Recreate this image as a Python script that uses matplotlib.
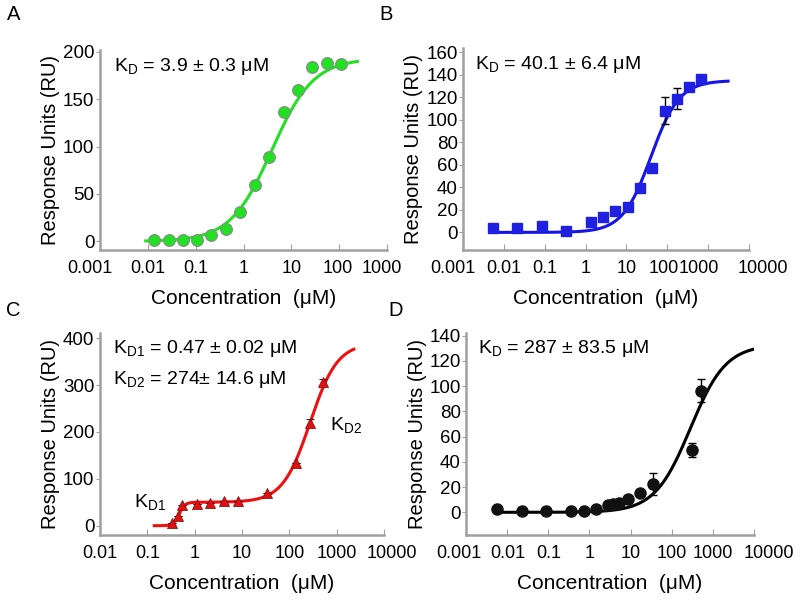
import numpy as np
import matplotlib
matplotlib.use('Agg')
import matplotlib.pyplot as plt
from matplotlib.transforms import ScaledTranslation

plt.rcParams['font.family'] = ['Liberation Sans', 'DejaVu Sans']
plt.rcParams['mathtext.fontset'] = 'custom'
plt.rcParams['mathtext.rm'] = 'Liberation Sans'
plt.rcParams['mathtext.it'] = 'Liberation Sans'

# panel A (green circles)
a_conc = [0.0134, 0.027, 0.054, 0.107, 0.21, 0.43, 0.86, 1.7, 3.4, 6.9, 13.7, 27.5, 55, 110]
a_resp = [1, 1, 1, 1.8, 7, 12.7, 31, 59, 89, 137, 160, 184, 188, 187]
a_err = [0, 0, 0, 0, 0, 0, 1.5, 2.5, 1.5, 0, 0, 3.5, 0, 0]
a_kd, a_rmax = 3.9, 193

# panel B (blue squares)
b_conc = [0.0054, 0.021, 0.086, 0.34, 1.34, 2.7, 5.4, 10.7, 21.5, 43, 86, 172, 343, 687]
b_resp = [3.6, 3.6, 5.6, 1.5, 8.9, 13.9, 19.3, 22.5, 39.7, 56.9, 107.9, 119, 129.5, 136.6]
b_err = [0, 0, 0, 0, 0, 0, 0, 0, 0, 0, 12, 9, 0, 0]
b_kd, b_rmax, b_n = 40.1, 135, 1.25

# panel C (red triangles)
c_conc = [0.33, 0.44, 0.53, 1.1, 2.1, 4.2, 8.3, 33, 138, 275, 525]
c_resp = [5, 20.6, 44, 46, 47.7, 52, 53, 70, 134.5, 220, 307]
c_err = [0, 0, 0, 0, 0, 0, 0, 0, 0, 8, 6]
c_kd1, c_r1, c_n1 = 0.47, 50, 7
c_kd2, c_r2, c_n2 = 274, 340, 1.5

# panel D (black circles)
d_conc = [0.0056, 0.023, 0.089, 0.36, 0.72, 1.47, 2.8, 3.7, 5.1, 8.6, 17.3, 35, 320, 530]
d_resp = [2.6, 1.3, 1.3, 1.1, 1.3, 2.4, 5.8, 6.3, 7.1, 10.6, 15.6, 22.2, 49.4, 96.4]
d_err = [0, 0, 0, 0, 0, 0, 0, 0, 0, 0, 0, 8.7, 5.5, 9]
d_kd, d_rmax = 287, 133


def hill(x, kd, rmax, n=1.0):
    return rmax * x**n / (kd**n + x**n)


spine_col = '#a0a0a0'


def style(ax, xlim, ylim, yticks, xticks, shifts=None):
    ax.set_xscale('log')
    ax.set_xlim(*xlim)
    ax.set_ylim(*ylim)
    ax.set_yticks(yticks)
    ax.set_xticks(xticks)
    ax.set_xticklabels(['%g' % t for t in xticks])
    ax.minorticks_off()
    for s in ['top', 'right']:
        ax.spines[s].set_visible(False)
    for s in ['left', 'bottom']:
        ax.spines[s].set_color(spine_col)
        ax.spines[s].set_linewidth(1.8)
    ax.tick_params(axis='x', direction='in', length=4, color=spine_col, labelsize=13, pad=7)
    ax.tick_params(axis='y', direction='out', length=3, color=spine_col, labelsize=13.5, pad=1)
    ax.set_xlabel('Concentration  (μM)', fontsize=15, labelpad=9)
    ax.set_ylabel('Response Units (RU)', fontsize=14.5, labelpad=2)
    # end labels are nudged apart like in the original figure
    if shifts:
        for lbl, t in zip(ax.get_xticklabels(), xticks):
            if t in shifts:
                lbl.set_transform(lbl.get_transform() +
                                  ScaledTranslation(shifts[t] / 100, 0, fig.dpi_scale_trans))


fig = plt.figure(figsize=(8, 6.04), dpi=100)
axA = fig.add_axes([0.125, 0.586, 0.359, 0.332])
axB = fig.add_axes([0.579, 0.586, 0.357, 0.334])
axC = fig.add_axes([0.125, 0.1142, 0.355, 0.334])
axD = fig.add_axes([0.583, 0.1142, 0.359, 0.334])

# A
x = np.logspace(np.log10(0.009), np.log10(240), 300)
axA.plot(x, hill(x, a_kd, a_rmax), color='#22e022', lw=2.2, zorder=2)
axA.errorbar(a_conc, a_resp, yerr=a_err, fmt='o', ms=8.5, mfc='#22e022', mec='#8a8a8a',
             mew=0.8, ecolor='black', elinewidth=1, capsize=3, zorder=3)
style(axA, (0.001, 1000), (-9.2, 202.5), range(0, 201, 50),
      [0.001, 0.01, 0.1, 1, 10, 100, 1000], {0.001: -10, 100: -2, 1000: -5})
axA.text(0.05, 0.97, r'K$_{\mathrm{D}}$ = 3.9 ± 0.3 μM', transform=axA.transAxes,
         fontsize=14, va='top')

# B
x = np.logspace(np.log10(0.0054), np.log10(3100), 300)
axB.plot(x, hill(x, b_kd, b_rmax, b_n), color='#1414e6', lw=2.2, zorder=2)
axB.errorbar(b_conc, b_resp, yerr=b_err, fmt='s', ms=7, mfc='#2020e0', mec='#2020e0',
             ecolor='black', elinewidth=1, capsize=3, zorder=3)
style(axB, (0.001, 10000), (-15.7, 163.6), range(0, 161, 20),
      [0.001, 0.01, 0.1, 1, 10, 100, 1000, 10000],
      {0.001: -10, 100: -3, 1000: -9, 10000: 14})
axB.text(0.04, 0.97, r'K$_{\mathrm{D}}$ = 40.1 ± 6.4 μM', transform=axB.transAxes,
         fontsize=14, va='top')

# C
x = np.logspace(np.log10(0.14), np.log10(2300), 400)
axC.plot(x, hill(x, c_kd1, c_r1, c_n1) + hill(x, c_kd2, c_r2, c_n2),
         color='#ee1010', lw=2.2, zorder=2)
axC.errorbar(c_conc, c_resp, yerr=c_err, fmt='^', ms=6.5, mfc='#e01010', mec='#901010',
             mew=0.6, ecolor='black', elinewidth=1, capsize=3, zorder=3)
style(axC, (0.01, 10000), (-19.9, 410.6), range(0, 401, 100),
      [0.01, 0.1, 1, 10, 100, 1000, 10000], {10000: 8})
axC.text(0.045, 0.975, r'K$_{\mathrm{D1}}$ = 0.47 ± 0.02 μM', transform=axC.transAxes,
         fontsize=14, va='top')
axC.text(0.045, 0.825, r'K$_{\mathrm{D2}}$ = 274± 14.6 μM', transform=axC.transAxes,
         fontsize=14, va='top')
axC.text(0.12, 0.14, r'K$_{\mathrm{D1}}$', transform=axC.transAxes, fontsize=14)
axC.text(0.81, 0.52, r'K$_{\mathrm{D2}}$', transform=axC.transAxes, fontsize=14)

# D
x = np.logspace(np.log10(0.0056), np.log10(10000), 300)
axD.plot(x, hill(x, d_kd, d_rmax), color='black', lw=2.2, zorder=2)
axD.errorbar(d_conc, d_resp, yerr=d_err, fmt='o', ms=8, mfc='#111111', mec='#111111',
             ecolor='black', elinewidth=1, capsize=3, zorder=3)
style(axD, (0.001, 10000), (-18, 141.9), range(0, 141, 20),
      [0.001, 0.01, 0.1, 1, 10, 100, 1000, 10000], {0.001: -8, 10000: 15})
axD.text(0.04, 0.975, r'K$_{\mathrm{D}}$ = 287 ± 83.5 μM', transform=axD.transAxes,
         fontsize=14, va='top')

for lab, (px, py) in zip('ABCD', [(14, 15), (386, 15), (13, 311), (396, 311)]):
    fig.text(px / 800, 1 - py / 604, lab, fontsize=14.5, ha='center', va='center')

fig.savefig('out.png', dpi=100)
